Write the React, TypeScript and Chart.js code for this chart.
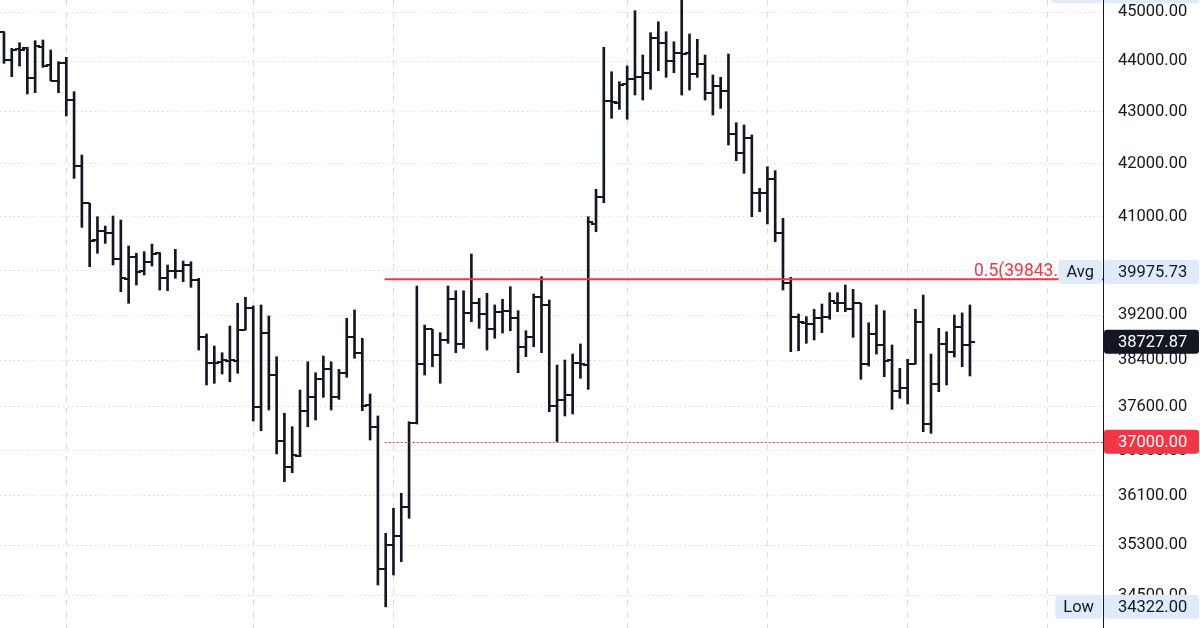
import React, { useEffect, useRef } from "react";
import { Chart, registerables } from "chart.js";
Chart.register(...registerables);

// ---- data (one entry per bar, oldest first) ----
const opens = [
  44598, 44027, 44242, 44262, 43662, 44295, 43927, 43614, 43973, 43232,
  41952, 41246, 40562, 40734, 40697, 40208, 39843, 40244, 39999, 40163,
  40318, 39861, 39999, 39999, 40103, 39830, 38815, 38358, 38375, 38393,
  38393, 38933, 39320, 37597, 38875, 38144, 37014, 36584, 36763, 37524,
  37769, 38080, 38242, 37769, 38184, 38815, 38523, 37626, 37256, 34914,
  35303, 35447, 35923, 37324, 38335, 38945, 38493, 38757, 39482, 38687,
  39242, 39410, 39219, 38945, 39260, 39278, 39142, 38639, 38815, 39518,
  39380, 37609, 37712, 37798, 38358, 38323, 40859, 41358, 43218, 43179,
  43549, 43642, 43694, 43773, 44465, 44363, 44013, 44162, 44162, 43747,
  43947, 43365, 43509, 43416, 42568, 42207, 42485, 41445, 41440, 41699,
  40697, 39781, 39171, 39063, 39040, 39142, 39160, 39420, 39410, 39303,
  39410, 38335, 38863, 38669, 38405, 37872, 37913, 38335, 39081, 37302,
  37988, 38687, 38551, 38992, 38669,
];
const highs = [
  44598, 44262, 44375, 44283, 44416, 44430, 44228, 43993, 44081, 43397,
  42163, 41246, 40995, 40821, 41008, 40933, 40452, 40318, 40347, 40488,
  40329, 40103, 40391, 40176, 40163, 39861, 38863, 38651, 38533, 39004,
  39410, 39518, 39362, 39380, 39183, 38463, 37485, 37256, 37884, 38375,
  38184, 38475, 38375, 38242, 39142, 39290, 38787, 37815, 37439, 35491,
  35897, 36144, 37341, 39721, 39022, 38945, 38886, 39721, 39636, 39636,
  40305, 39500, 39590, 39380, 39482, 39709, 39278, 38921, 39577, 39890,
  39469, 38318, 38405, 38510, 38687, 40995, 41510, 44283, 43793, 43594,
  43907, 45027, 44128, 44578, 44801, 44598, 44396, 45430, 44552, 44444,
  44128, 43728, 43682, 44148, 42787, 42743, 42549, 41529, 41939, 41863,
  40965, 39879, 39219, 39171, 39303, 39397, 39600, 39600, 39740, 39662,
  39410, 39063, 39380, 39278, 38669, 38260, 38418, 39303, 39559, 38510,
  38963, 38903, 39201, 39237, 39380,
];
const lows = [
  43961, 43694, 43907, 43351, 43377, 43881, 43614, 43377, 42918, 41717,
  40797, 40072, 40318, 40501, 40103, 39618, 39410, 39740, 39921, 40085,
  39649, 39636, 39861, 39799, 39698, 38580, 37971, 38000, 38161, 38028,
  38174, 38933, 37353, 37188, 37541, 36796, 36335, 36484, 36751, 37256,
  37370, 37758, 37541, 37724, 38104, 38435, 37529, 37031, 34665, 34322,
  34823, 35035, 35734, 37302, 38144, 38288, 38000, 38699, 38533, 38611,
  39081, 38963, 38580, 38787, 38880, 38921, 38184, 38463, 38639, 38533,
  37512, 37005, 37439, 37473, 38087, 37896, 40716, 41257, 42874, 43049,
  42855, 43331, 43232, 43444, 43813, 43682, 43773, 43331, 43430, 43682,
  43232, 42938, 43069, 42355, 42054, 41813, 40995, 41088, 40859, 40531,
  39649, 38551, 38568, 38699, 38757, 38886, 39124, 39260, 39260, 38804,
  38069, 38300, 38510, 38114, 37552, 37741, 37643, 38335, 37171, 37144,
  37855, 37971, 38458, 38288, 38127,
];
const closes = [
  44027, 44228, 44228, 43662, 44309, 43907, 43614, 43973, 43232, 41952,
  41246, 40549, 40734, 40697, 40208, 39861, 40244, 39981, 40163, 40305,
  39861, 39999, 39990, 40103, 39830, 38815, 38358, 38350, 38405, 38400,
  38933, 39320, 37597, 38875, 38144, 37014, 36584, 36779, 37524, 37769,
  38080, 38242, 37769, 38184, 38815, 38523, 37609, 37256, 34914, 35303,
  35447, 35923, 37324, 38335, 38945, 38493, 38757, 39482, 38687, 39242,
  39410, 39219, 38945, 39260, 39278, 39142, 38639, 38815, 39518, 39380,
  37609, 37712, 37798, 38358, 38335, 40896, 41358, 43218, 43199, 43529,
  43642, 43694, 43773, 44465, 44363, 44013, 44162, 44150, 43747, 43947,
  43365, 43509, 43416, 42568, 42207, 42485, 41445, 41440, 41699, 40697,
  39781, 39171, 39081, 39040, 39142, 39160, 39456, 39410, 39303, 39410,
  38335, 38863, 38669, 38393, 37872, 37913, 38335, 39081, 37302, 37988,
  38687, 38551, 38992, 38669, 38727.87,
];

const yTickValues = [45000, 44000, 43000, 42000, 41000, 40000, 39200, 38400, 37600, 36850, 36100, 35300, 34500];
const timeGridIdx = [8, 32, 50, 80, 98, 116, 134];

const fibStartIdx = 49;
const fibValue = 39843;
const fibText = "0.5(39843.00)";
const fibVisible = "0.5(39843.";
const alertValue = 37000;
const avgValue = 39975.73;
const lastValue = 38727.87;
const lowValue = 34322;
const highValue = 45430;

const Y_MIN = 33993;
const Y_MAX = 45247;
const X_MIN = -0.51;
const X_MAX = 141.08;

const INK = "#131722";
const RED = "#f23645";
const PALE = "#dfebfb";
const GRID = "#d9dce3";
const FONT = "Roboto, 'Noto Sans', sans-serif";

function tickImage(side: "left" | "right") {
  const c = document.createElement("canvas");
  c.width = 10;
  c.height = 2;
  const g = c.getContext("2d")!;
  g.fillStyle = INK;
  if (side === "left") g.fillRect(0, 0, 5, 2);
  else g.fillRect(5, 0, 5, 2);
  return c;
}

function box(ctx: CanvasRenderingContext2D, x: number, yc: number, w: number, h: number, bg: string) {
  ctx.fillStyle = bg;
  ctx.beginPath();
  (ctx as any).roundRect(x, yc - h / 2, w, h, 3);
  ctx.fill();
}

const overlayPlugin = {
  id: "overlay",
  afterDatasetsDraw(chart: any) {
    const { ctx, chartArea, scales } = chart;
    const x = scales.x;
    const y = scales.y;
    const x0 = x.getPixelForValue(fibStartIdx) - 1;
    ctx.save();
    const fy = y.getPixelForValue(fibValue);
    ctx.strokeStyle = RED;
    ctx.lineWidth = 2;
    ctx.beginPath();
    ctx.moveTo(x0, fy);
    ctx.lineTo(chartArea.right, fy);
    ctx.stroke();
    const ay = Math.round(y.getPixelForValue(alertValue)) + 0.5;
    ctx.lineWidth = 1;
    ctx.setLineDash([2, 2]);
    ctx.beginPath();
    ctx.moveTo(x0, ay);
    ctx.lineTo(chartArea.right, ay);
    ctx.stroke();
    ctx.setLineDash([]);
    ctx.font = `17.5px ${FONT}`;
    ctx.fillStyle = RED;
    ctx.textBaseline = "alphabetic";
    ctx.textAlign = "left";
    const vis = ctx.measureText(fibVisible).width;
    ctx.fillText(fibText, chartArea.right - 45 - vis, fy - 3);
    ctx.restore();
  },
  afterDraw(chart: any) {
    const { ctx, chartArea, scales } = chart;
    const y = scales.y;
    const R = chartArea.right;
    const H = 24;
    ctx.save();
    ctx.font = `16.5px ${FONT}`;
    ctx.textBaseline = "middle";
    const pair = (label: string | null, value: number, bg: string, fg: string) => {
      const yc = y.getPixelForValue(value);
      if (label) {
        const tw = ctx.measureText(label).width;
        const w = tw + 16;
        box(ctx, R - 1 - w, yc, w, H, PALE);
        ctx.fillStyle = INK;
        ctx.textAlign = "center";
        ctx.fillText(label, R - 1 - w / 2, yc + 1);
      }
      box(ctx, R + 1, yc, 95, H, bg);
      ctx.fillStyle = fg;
      ctx.textAlign = "left";
      ctx.fillText(value.toFixed(2), R + 15, yc + 1);
    };
    pair("High", highValue, PALE, INK);
    pair("Avg", avgValue, PALE, INK);
    pair(null, lastValue, INK, "#ffffff");
    pair(null, alertValue, RED, "#ffffff");
    pair("Low", lowValue, PALE, INK);
    ctx.restore();
  },
};

export default function App() {
  const ref = useRef<HTMLCanvasElement | null>(null);
  useEffect(() => {
    if (!ref.current) return;
    const openImg = tickImage("left");
    const closeImg = tickImage("right");
    const chart = new Chart(ref.current, {
      type: "bar",
      data: {
        datasets: [
          {
            type: "bar",
            data: highs.map((h, i) => ({ x: i, y: [lows[i], h] })) as any,
            backgroundColor: INK,
            borderWidth: 0,
            barThickness: 2,
            grouped: false,
          } as any,
          {
            type: "scatter",
            data: opens.map((o, i) => ({ x: i, y: o })),
            pointStyle: openImg as any,
            pointRadius: 3,
            pointHoverRadius: 3,
          } as any,
          {
            type: "scatter",
            data: closes.map((c, i) => ({ x: i, y: c })),
            pointStyle: closeImg as any,
            pointRadius: 3,
            pointHoverRadius: 3,
          } as any,
        ],
      },
      options: {
        responsive: false,
        animation: false,
        devicePixelRatio: 1,
        layout: { padding: 0, autoPadding: false },
        plugins: { legend: { display: false }, tooltip: { enabled: false } },
        events: [],
        scales: {
          x: {
            type: "linear",
            min: X_MIN,
            max: X_MAX,
            offset: false,
            afterBuildTicks: (s: any) => {
              s.ticks = timeGridIdx.map((v) => ({ value: v }));
            },
            afterFit: (s: any) => {
              s.height = 0;
              s.paddingLeft = 0;
              s.paddingRight = 0;
            },
            ticks: { display: false },
            grid: { color: GRID, lineWidth: 1, drawTicks: false, offset: false },
            border: { display: false, dash: [6, 6] },
          },
          y: {
            type: "logarithmic",
            position: "right",
            min: Y_MIN,
            max: Y_MAX,
            bounds: "data",
            afterBuildTicks: (s: any) => {
              s.ticks = yTickValues.map((v) => ({ value: v }));
            },
            afterFit: (s: any) => {
              s.width = 97;
              s.paddingTop = 0;
              s.paddingBottom = 0;
            },
            ticks: {
              autoSkip: false,
              padding: 15,
              color: INK,
              font: { family: FONT, size: 16.5 },
              callback: (v: any) => Number(v).toFixed(2),
            },
            grid: { color: GRID, lineWidth: 1, drawTicks: false },
            border: { display: true, color: INK, width: 1, dash: [1.5, 3] },
          },
        },
      } as any,
      plugins: [overlayPlugin],
    });
    return () => chart.destroy();
  }, []);
  return (
    <div style={{ position: "absolute", left: 0, top: 0, width: 1200, height: 628, background: "#ffffff" }}>
      <canvas ref={ref} width={1200} height={628} style={{ display: "block" }} />
    </div>
  );
}
